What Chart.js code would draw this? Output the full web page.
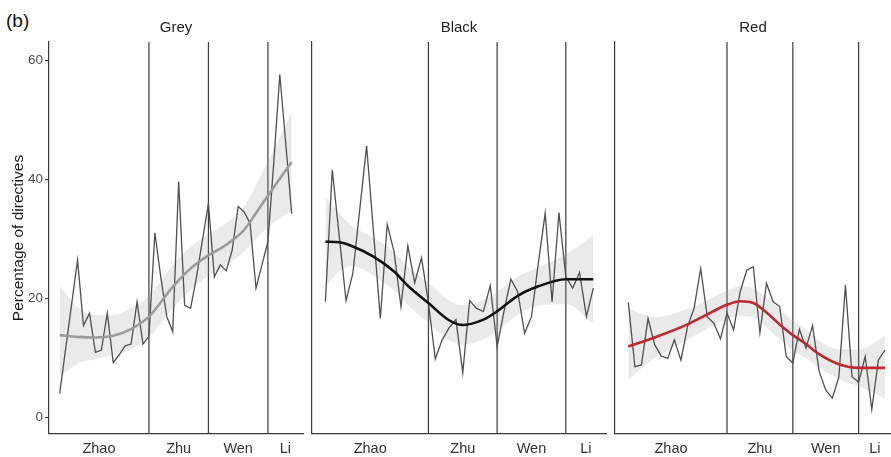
<!DOCTYPE html>
<html>
<head>
<meta charset="utf-8">
<script src="https://cdn.jsdelivr.net/npm/chart.js@4.4.0/dist/chart.umd.min.js"></script>
<style>
  body { margin: 0; background: #fff; }
  #wrap { position: relative; width: 891px; height: 457px; overflow: hidden; font-family: "Liberation Sans", Arial, sans-serif; }
  canvas { position: absolute; top: 0; }
  #tag { position: absolute; left: 6px; top: 11px; font-size: 19px; line-height: 1; color: #111; }
</style>
</head>
<body>
<div id="wrap">
  <div id="tag">(b)</div>
  <canvas id="c1" width="304" height="457" style="left:0"></canvas>
  <canvas id="c2" width="303" height="457" style="left:305px"></canvas>
  <canvas id="c3" width="283" height="457" style="left:608px"></canvas>
</div>
<script>
// eras (premiers) and where they change, in period index
const eras = ['Zhao', 'Zhu', 'Wen', 'Li'];
const eraBreaks = [15, 25, 35];
const yTicks = [0, 20, 40, 60];

// Grey panel
const greyShare = [4.0, 11.5, 19.0, 26.4, 15.4, 17.5, 10.9, 11.3, 17.5, 9.2,
  10.5, 12.0, 12.3, 19.4, 12.3, 13.6, 31.0, 23.5, 16.9, 14.4,
  39.6, 18.8, 18.3, 23.6, 29.8, 35.9, 23.6, 25.6, 24.6, 28.1,
  35.4, 34.5, 32.6, 21.7, 25.6, 29.5, 43.0, 57.6, 46.0, 34.2];
const greyFitX = [0, 3, 6, 9, 12, 15, 19, 22, 25, 28, 31, 34, 37, 39];
const greyFit  = [13.8, 13.5, 13.4, 13.7, 14.8, 16.9, 21.9, 25.0, 27.2, 29.0, 31.5, 35.8, 40.1, 42.9];
const greyLow  = [6.8, 9.0, 9.8, 10.4, 11.4, 13.4, 18.3, 21.4, 23.7, 25.5, 27.8, 31.0, 33.5, 34.5];
const greyHigh = [22.2, 18.5, 17.2, 17.2, 18.4, 20.4, 25.6, 28.6, 30.8, 32.6, 35.4, 41.0, 47.0, 51.3];

// Black panel
const blackShare = [19.4, 41.6, 30.6, 19.6, 24.2, 34.9, 45.6, 31.2, 16.6, 32.4,
  27.8, 18.6, 28.8, 22.6, 26.8, 19.2, 9.8, 13.0, 15.0, 16.4,
  7.5, 19.6, 18.3, 17.8, 22.1, 11.9, 17.8, 23.2, 21.1, 14.1,
  16.9, 25.9, 34.3, 19.4, 34.4, 23.6, 21.7, 24.3, 16.9, 21.7];
const blackFitX = [0, 2, 4, 7, 10, 12, 15, 18, 20, 23, 25, 28, 31, 35, 39];
const blackFit  = [29.5, 29.4, 28.7, 27.0, 24.5, 22.1, 19.2, 16.3, 15.5, 16.4, 17.8, 20.4, 22.0, 23.2, 23.2];
const blackLow  = [22.0, 24.5, 25.4, 23.8, 21.3, 18.9, 15.8, 13.0, 12.2, 13.1, 14.5, 17.2, 18.8, 19.0, 15.8];
const blackHigh = [37.0, 34.3, 32.0, 30.2, 27.7, 25.3, 22.6, 19.6, 18.8, 19.7, 21.1, 23.6, 25.2, 27.4, 30.6];

// Red panel
const redShare = [19.3, 8.5, 8.8, 16.6, 12.2, 10.3, 9.9, 13.0, 9.6, 15.2,
  18.3, 25.0, 16.9, 15.8, 13.2, 17.5, 14.7, 21.1, 24.7, 25.3,
  14.2, 22.5, 19.4, 18.6, 10.2, 9.1, 14.8, 11.6, 15.4, 7.7,
  4.6, 3.2, 6.8, 22.2, 6.8, 5.9, 10.2, 1.3, 9.6, 11.3];
const redFitX = [0, 4, 9, 12, 15, 17, 19, 21, 23, 25, 27, 29, 32, 35, 39];
const redFit  = [11.9, 13.4, 15.6, 17.3, 18.9, 19.5, 19.2, 17.6, 15.6, 13.8, 12.3, 10.6, 8.9, 8.3, 8.3];
const redLow  = [6.3, 10.0, 13.0, 14.9, 16.5, 17.0, 16.8, 15.1, 13.1, 11.3, 9.9, 8.3, 6.4, 5.2, 3.2];
const redHigh = [18.3, 16.8, 18.2, 19.7, 21.3, 22.0, 21.6, 20.1, 18.1, 16.3, 14.7, 12.9, 11.4, 11.4, 13.6];

const FONT = '"Liberation Sans", Arial, sans-serif';
const AXIS = '#3a3a3a';

// vertical lines between the eras
const eraLines = {
  id: 'eraLines',
  beforeDatasetsDraw(chart) {
    const { ctx, chartArea, scales: { x } } = chart;
    ctx.save();
    ctx.strokeStyle = AXIS;
    ctx.lineWidth = 1.2;
    eraBreaks.forEach(b => {
      const px = x.getPixelForValue(b);
      ctx.beginPath();
      ctx.moveTo(px, chartArea.top);
      ctx.lineTo(px, chartArea.bottom);
      ctx.stroke();
    });
    ctx.restore();
  }
};

const toPts = (xs, ys) => ys.map((v, i) => ({ x: xs[i], y: v }));

function drawPanel(p) {
  const idx = p.share.map((v, i) => i);
  const bounds = [p.xMin].concat(eraBreaks, [p.xMax]);
  const mids = eras.map((e, i) => (bounds[i] + bounds[i + 1]) / 2);

  new Chart(document.getElementById(p.id), {
    type: 'line',
    data: {
      datasets: [
        { data: toPts(p.fitX, p.fit), borderColor: p.color, borderWidth: 2.6,
          pointRadius: 0, cubicInterpolationMode: 'monotone', fill: false },
        { data: toPts(idx, p.share), borderColor: '#505050', borderWidth: 1.3,
          pointRadius: 0, tension: 0, fill: false },
        { data: toPts(p.fitX, p.high), borderWidth: 0, pointRadius: 0,
          cubicInterpolationMode: 'monotone', fill: '+1', backgroundColor: 'rgba(150,150,150,0.2)' },
        { data: toPts(p.fitX, p.low), borderWidth: 0, pointRadius: 0,
          cubicInterpolationMode: 'monotone', fill: false }
      ]
    },
    options: {
      responsive: false,
      animation: false,
      layout: { padding: { left: 0, right: p.padRight, top: 0, bottom: 0 } },
      plugins: {
        legend: { display: false },
        tooltip: { enabled: false },
        title: {
          display: true, text: p.title, fullSize: false, color: '#222',
          font: { family: FONT, size: 15, weight: 'normal' },
          padding: { top: 19, bottom: 5 }
        }
      },
      scales: {
        x: {
          type: 'linear', min: p.xMin, max: p.xMax,
          grid: { display: false, drawTicks: false },
          border: { display: true, color: AXIS, width: 1.2 },
          afterBuildTicks: s => { s.ticks = mids.map(v => ({ value: v })); },
          afterFit: s => { s.height = 23; },
          ticks: {
            autoSkip: false, maxRotation: 0, padding: 6, color: '#333',
            font: { family: FONT, size: 14.5 },
            callback: (v, i) => eras[i]
          }
        },
        y: {
          min: -2.82, max: 63.07,
          afterBuildTicks: s => { s.ticks = yTicks.map(v => ({ value: v })); },
          afterFit: s => { s.width = p.axisWidth; },
          grid: { display: p.showY, drawOnChartArea: false, drawTicks: true, tickLength: 4, color: AXIS, lineWidth: 1.1 },
          border: { display: true, color: AXIS, width: 1.2 },
          ticks: { display: p.showY, padding: 2, color: '#4d4d4d', font: { family: FONT, size: 13.5 } },
          title: {
            display: p.showY, text: 'Percentage of directives', color: '#1a1a1a',
            font: { family: FONT, size: 15.5 }, padding: { top: 9, bottom: 0 }
          }
        }
      }
    },
    plugins: [eraLines]
  });
}

drawPanel({ id: 'c1', title: 'Grey', share: greyShare, fitX: greyFitX, fit: greyFit, low: greyLow, high: greyHigh,
  color: '#9b9b9b', xMin: -1.8, xMax: 40.9, axisWidth: 49, padRight: 1, showY: true });
drawPanel({ id: 'c2', title: 'Black', share: blackShare, fitX: blackFitX, fit: blackFit, low: blackLow, high: blackHigh,
  color: '#111111', xMin: -1.95, xMax: 40.85, axisWidth: 7, padRight: 2, showY: false });
drawPanel({ id: 'c3', title: 'Red', share: redShare, fitX: redFitX, fit: redFit, low: redLow, high: redHigh,
  color: '#c0282d', xMin: -2.02, xMax: 39.92, axisWidth: 7, padRight: 0, showY: false });
</script>
</body>
</html>
